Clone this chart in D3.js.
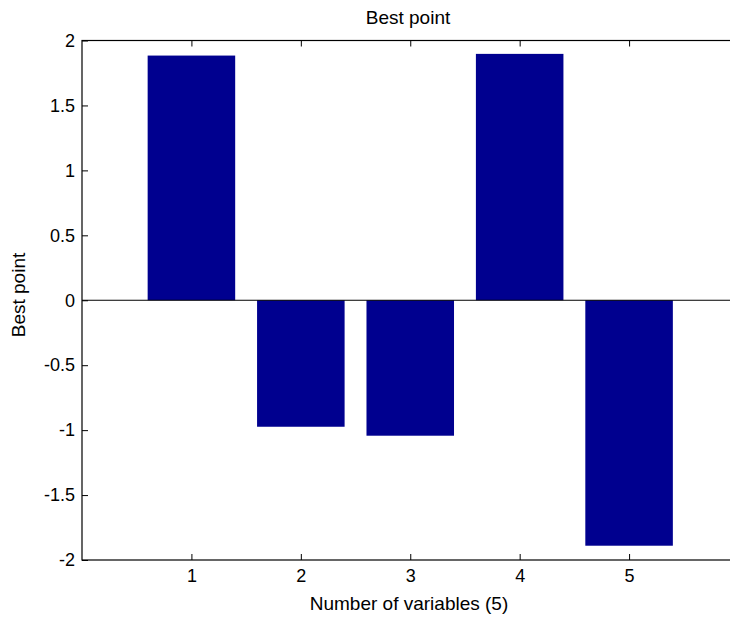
<!DOCTYPE html>
<html>
<head>
<meta charset="utf-8">
<script src="https://cdn.jsdelivr.net/npm/d3@7"></script>
<style>
  body { margin: 0; background: #fff; }
  svg { display: block; overflow: hidden; }
  text { font-family: "Liberation Sans", Arial, sans-serif; fill: #000; }
</style>
</head>
<body>
<script>
// datos
var variables = [1, 2, 3, 4, 5];
var bestPoint = [1.884, -0.974, -1.043, 1.897, -1.890];
var yTicks = [-2, -1.5, -1, -0.5, 0, 0.5, 1, 1.5, 2];
var xTicks = [1, 2, 3, 4, 5];

var vis = {
    width: 730,
    height: 618,
    left: 82,
    right: 738.5,   // el borde derecho queda fuera de la imagen
    top: 40.5,
    bottom: 560,
    tick: 6
};

var svg = d3.select("body").append("svg")
    .attr("width", vis.width)
    .attr("height", vis.height);

var x = d3.scaleLinear().domain([0, 6]).range([vis.left, vis.right]);
var y = d3.scaleLinear().domain([-2, 2]).range([vis.bottom, vis.top]);

// barras
svg.selectAll("rect.bar")
    .data(variables)
    .enter()
    .append("rect")
    .attr("class", "bar")
    .attr("x", function(d) { return x(d - 0.4); })
    .attr("width", function(d) { return x(d + 0.4) - x(d - 0.4); })
    .attr("y", function(d, i) { return y(Math.max(0, bestPoint[i])); })
    .attr("height", function(d, i) { return Math.abs(y(bestPoint[i]) - y(0)); })
    .attr("fill", "#00008f");

// linea base en cero
svg.append("line")
    .attr("x1", vis.left).attr("x2", vis.right)
    .attr("y1", y(0)).attr("y2", y(0))
    .attr("stroke", "#000").attr("stroke-width", 1);

// ejes (ticks hacia dentro, estilo matlab)
var axisBottom = d3.axisBottom(x).tickValues(xTicks).tickSize(-vis.tick).tickPadding(9).tickFormat(d3.format("d"));
var axisTop = d3.axisTop(x).tickValues(xTicks).tickSize(-vis.tick).tickFormat("");
var axisLeft = d3.axisLeft(y).tickValues(yTicks).tickSize(-vis.tick).tickPadding(7)
    .tickFormat(function(d) { return String(d); });
var axisRight = d3.axisRight(y).tickValues(yTicks).tickSize(-vis.tick).tickFormat("");

function estilo(g) {
    g.select(".domain").remove();
    g.selectAll(".tick line").attr("stroke", "#000");
    g.selectAll(".tick text").style("font-size", "18px").attr("fill", "#000")
        .style("font-family", "'Liberation Sans', Arial, sans-serif");
}

svg.append("g").attr("transform", "translate(0," + vis.bottom + ")").call(axisBottom).call(estilo);
svg.append("g").attr("transform", "translate(0," + vis.top + ")").call(axisTop).call(estilo);
svg.append("g").attr("transform", "translate(" + vis.left + ",0)").call(axisLeft).call(estilo);
svg.append("g").attr("transform", "translate(" + vis.right + ",0)").call(axisRight).call(estilo);

// caja
svg.append("rect")
    .attr("x", vis.left).attr("y", vis.top)
    .attr("width", vis.right - vis.left).attr("height", vis.bottom - vis.top)
    .attr("fill", "none").attr("stroke", "#000").attr("stroke-width", 1.2);

// textos
svg.append("text")
    .attr("x", 408).attr("y", 24)
    .attr("text-anchor", "middle")
    .style("font-size", "19px")
    .text("Best point");

svg.append("text")
    .attr("x", 409).attr("y", 610)
    .attr("text-anchor", "middle")
    .style("font-size", "19px")
    .text("Number of variables (5)");

svg.append("text")
    .attr("transform", "translate(25,295) rotate(-90)")
    .attr("text-anchor", "middle")
    .style("font-size", "19px")
    .text("Best point");
</script>
</body>
</html>
